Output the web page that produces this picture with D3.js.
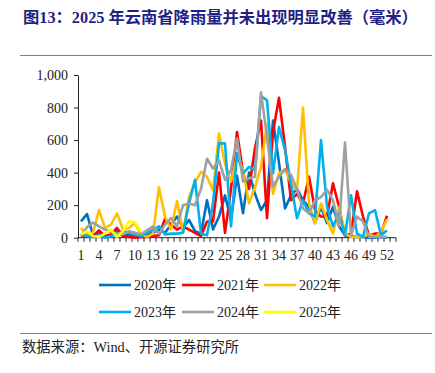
<!DOCTYPE html>
<html><head><meta charset="utf-8">
<script src="https://cdn.jsdelivr.net/npm/d3@7"></script>
<style>
body{margin:0;background:#fff;}
svg{display:block;}
</style></head>
<body>
<svg id="c" width="435" height="373"></svg>
<script>
const weeks = d3.range(1, 54);
const tickLabels = [1,4,7,10,13,16,19,22,25,28,31,34,37,40,43,46,49,52];
const yTicks = [0,200,400,600,800,1000];
const seriesNames = ["2020年","2021年","2022年","2023年","2024年","2025年"];
const colors = ["#0070C0","#FF0000","#FFC000","#00B0F0","#A0A0A0","#FFFF00"];

const s2020 = [100,145,15,30,10,15,40,10,20,5,10,15,30,50,30,80,130,60,110,40,25,230,50,130,260,110,380,150,400,270,170,230,720,460,180,260,300,230,190,90,190,90,190,70,15,10,5,5,0,0,5,0];
const s2021 = [10,20,10,45,10,20,60,10,5,0,5,5,10,15,115,80,50,70,50,30,10,100,100,400,30,300,650,400,300,550,720,120,650,860,560,230,270,210,375,170,130,130,335,190,15,25,285,130,15,25,25,135];
const s2022 = [60,15,30,170,60,80,150,50,60,90,20,5,25,310,130,50,225,30,250,340,405,375,290,640,455,345,495,420,210,310,435,700,270,395,420,335,290,800,210,90,210,110,25,190,25,5,5,5,25,5,35,115];
const s2023 = [20,10,5,10,0,10,20,40,30,20,10,30,50,70,20,25,25,30,210,355,25,15,210,580,580,70,520,395,435,415,870,845,395,680,540,330,120,230,150,130,600,190,70,150,15,260,25,5,150,170,15,45];
const s2024 = [10,65,93,70,50,35,25,20,40,30,20,45,70,25,80,120,70,200,210,200,300,485,425,475,355,415,610,345,365,375,893,620,315,375,420,385,295,180,150,230,250,295,230,70,585,15,130,100,5,5,5,5];
const s2025 = [20,40,10,5,25,50,5,40,100,95,40];

const seriesData = [s2020,s2021,s2022,s2023,s2024,s2025];

const svg = d3.select("#c");
const serif = "'Liberation Serif','Times New Roman','Noto Sans CJK SC',serif";

// title
svg.append("text").attr("x",23).attr("y",23)
  .attr("font-family",serif).attr("font-weight","bold").attr("font-size",16.3)
  .attr("fill","#1F1F85")
  .text("图13：2025 年云南省降雨量并未出现明显改善（毫米）");
svg.append("line").attr("x1",20).attr("x2",432).attr("y1",55.5).attr("y2",55.5)
  .attr("stroke","#808080").attr("stroke-width",1.2);

const x = d3.scaleBand().domain(weeks).range([78,396]).paddingInner(0).paddingOuter(0);
const y = d3.scaleLinear().domain([0,1000]).range([237.7,75]);

// y axis
const yAxis = d3.axisLeft(y).tickValues(yTicks).tickFormat(d3.format(",")).tickSize(4).tickSizeOuter(0);
const gy = svg.append("g").attr("transform","translate(78,0)").call(yAxis);
gy.selectAll("text").attr("font-family",serif).attr("font-size",14).attr("fill","#222").attr("x",-10);
gy.selectAll("line,path").attr("stroke","#222");

// x axis: ticks at band boundaries
const xb = d3.scaleLinear().domain([0,53]).range([78,396]);
const gx = svg.append("g").attr("transform","translate(0,237.7)");
gx.append("line").attr("x1",78).attr("x2",396).attr("y1",0).attr("y2",0).attr("stroke","#222");
gx.selectAll("line.t").data(d3.range(0,54)).join("line").attr("class","t")
  .attr("x1",d=>xb(d)).attr("x2",d=>xb(d)).attr("y1",0).attr("y2",4).attr("stroke","#222");
gx.selectAll("text").data(tickLabels).join("text")
  .attr("x",d=>x(d)+x.bandwidth()/2).attr("y",22).attr("text-anchor","middle")
  .attr("font-family",serif).attr("font-size",14).attr("fill","#222").text(d=>d);

// lines
const line = d3.line().x((d,i)=>x(weeks[i])+x.bandwidth()/2).y(d=>y(d));
seriesData.forEach((s,k)=>{
  svg.append("path").datum(s).attr("d",line).attr("fill","none")
    .attr("stroke",colors[k]).attr("stroke-width",2.6).attr("stroke-linejoin","round");
});

// legend
const legX = [99,182,264], legY = [285,312];
seriesNames.forEach((n,k)=>{
  const lx = legX[k%3], ly = legY[Math.floor(k/3)];
  svg.append("line").attr("x1",lx).attr("x2",lx+32).attr("y1",ly).attr("y2",ly)
    .attr("stroke",colors[k]).attr("stroke-width",2.6);
  svg.append("text").attr("x",lx+35).attr("y",ly+5).attr("font-family",serif)
    .attr("font-size",14).attr("fill","#222").text(n);
});

svg.append("line").attr("x1",20).attr("x2",432).attr("y1",333.5).attr("y2",333.5)
  .attr("stroke","#808080").attr("stroke-width",1.2);
svg.append("text").attr("x",22).attr("y",352).attr("font-family",serif)
  .attr("font-size",14.3).attr("fill","#222").text("数据来源：Wind、开源证券研究所");
</script>
</body></html>
